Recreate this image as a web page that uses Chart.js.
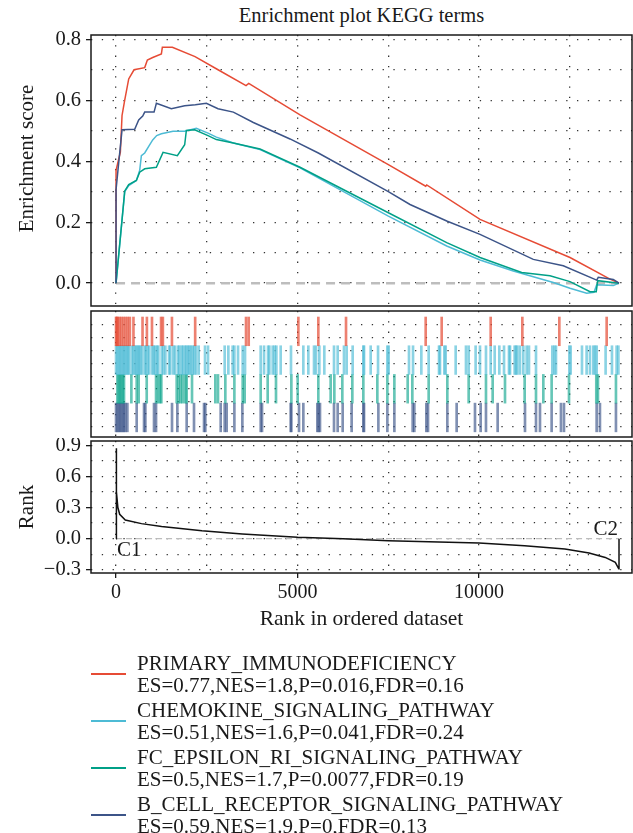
<!DOCTYPE html>
<html>
<head>
<meta charset="utf-8">
<script src="https://cdn.jsdelivr.net/npm/chart.js@4.4.1/dist/chart.umd.min.js"></script>
<style>
  body { margin: 0; background: #fff; width: 633px; height: 833px; position: relative; overflow: hidden;
         font-family: "Liberation Serif", serif; color: #1a1a1a; }
  canvas { position: absolute; left: 0; }
  #title { position: absolute; left: 91px; width: 541px; top: 4px; text-align: center; font-size: 20.5px; line-height: 22px; }
  .item { position: absolute; left: 0; width: 633px; height: 46px; }
  .item .key { position: absolute; left: 91px; width: 35px; top: 21px; height: 2px; }
  .item .txt { position: absolute; left: 137px; top: 0; font-size: 21px; line-height: 22px; white-space: nowrap; }
</style>
</head>
<body>
<div id="title">Enrichment plot KEGG terms</div>
<canvas id="es" width="633" height="310" style="top:0"></canvas>
<canvas id="rug" width="633" height="131" style="top:308px"></canvas>
<canvas id="rank" width="633" height="200" style="top:438px"></canvas>
<div id="legend"></div>
<script>
var SERIF = "'Liberation Serif', serif";

// ── data ──────────────────────────────────────────────────────────────────────

var rankMax = 13857;                       // last gene in the ordered list
var rankAxisMin = -690, rankAxisMax = 14215;
var xGrid = [0, 2500, 5000, 7500, 10000, 12500];
var xLabelTicks = [0, 5000, 10000];

var esGrid = [0, 0.1, 0.2, 0.3, 0.4, 0.5, 0.6, 0.7, 0.8];
var esLabelTicks = [0, 0.2, 0.4, 0.6, 0.8];
var rankGrid = [-0.3, -0.15, 0, 0.15, 0.3, 0.45, 0.6, 0.75, 0.9];
var rankLabelTicks = [-0.3, 0, 0.3, 0.6, 0.9];
var rugGrid = [0.18, 0.62, 1.06, 1.5, 1.94, 2.39, 2.83, 3.27, 3.72];

var setNames = ["PRIMARY_IMMUNODEFICIENCY", "CHEMOKINE_SIGNALING_PATHWAY",
                "FC_EPSILON_RI_SIGNALING_PATHWAY", "B_CELL_RECEPTOR_SIGNALING_PATHWAY"];
var setStats = ["ES=0.77,NES=1.8,P=0.016,FDR=0.16", "ES=0.51,NES=1.6,P=0.041,FDR=0.24",
                "ES=0.5,NES=1.7,P=0.0077,FDR=0.19", "ES=0.59,NES=1.9,P=0,FDR=0.13"];
var setColors = ["#E64B35", "#4DBBD5", "#00A087", "#3C5488"];
var rugColors = ["rgba(230,75,53,0.7)", "rgba(77,187,213,0.65)", "rgba(0,160,135,0.6)", "rgba(60,84,136,0.65)"];

// running enrichment score, [rank, ES]
var esPrimary = [[0,0],[0,0.37],[40,0.39],[119,0.43],[165,0.55],[239,0.6],[349,0.67],[496,0.7],
  [790,0.707],[863,0.732],[1010,0.74],[1249,0.752],[1276,0.774],[1552,0.774],[2176,0.743],
  [2810,0.7],[3581,0.648],[3655,0.655],[5069,0.552],[7502,0.389],[8531,0.318],[8559,0.322],
  [10028,0.209],[12507,0.084],[13609,0.013],[13857,0]];
var esChemokine = [[0,0],[120,0.15],[239,0.3],[349,0.32],[560,0.337],[652,0.37],[698,0.418],
  [790,0.427],[900,0.449],[1010,0.47],[1120,0.484],[1249,0.49],[1570,0.498],[1891,0.498],
  [2212,0.508],[2534,0.492],[2764,0.479],[3232,0.46],[3967,0.438],[5069,0.378],[7502,0.22],
  [9110,0.122],[10028,0.076],[10945,0.04],[12047,0.002],[12507,-0.017],[12967,-0.033],
  [13168,-0.03],[13242,-0.005],[13700,-0.008],[13857,0]];
var esFcEpsilon = [[0,0],[239,0.302],[349,0.323],[560,0.337],[652,0.364],[790,0.375],[1111,0.38],
  [1295,0.429],[1689,0.418],[1891,0.454],[1937,0.501],[2166,0.503],[2534,0.484],[2764,0.471],
  [3232,0.46],[3967,0.44],[5069,0.38],[7502,0.231],[9110,0.133],[10028,0.084],[11176,0.035],
  [11956,0.024],[12507,0.005],[13058,-0.028],[13230,-0.028],[13270,0.008],[13857,0]];
var esBCell = [[0,0],[0,0.307],[55,0.373],[165,0.503],[514,0.505],[624,0.535],[735,0.548],
  [790,0.561],[1047,0.561],[1111,0.59],[1524,0.572],[1891,0.582],[2185,0.585],[2488,0.59],
  [2810,0.572],[3232,0.561],[3783,0.527],[4793,0.473],[5573,0.427],[7502,0.3],[8099,0.258],
  [9110,0.204],[10028,0.16],[11496,0.078],[12322,0.057],[13242,0.01],[13286,0.019],
  [13700,0.012],[13857,0]];

// gene-set hits (rank positions)
var hitsPrimary = [0,20,40,90,140,200,260,320,380,480,730,850,990,1240,1290,1540,2180,3581,3655,
  5023,5573,6336,8531,8972,10322,11194,12213,13517];
var hitsChemokine = [0,37,73,110,147,184,220,257,294,330,367,441,477,523,560,597,633,670,716,789,
  826,872,918,1000,1037,1083,1129,1166,1258,1304,1359,1460,1496,1579,1625,1707,1744,1808,1845,
  1900,1937,1983,2020,2066,2111,2157,2203,2277,2451,2534,2993,3094,3214,3260,3361,3489,3554,
  3985,4077,4187,4224,4316,4371,4417,4536,4820,5160,5298,5454,5509,5601,5738,6005,6106,6280,
  6354,6519,6813,6832,7016,7218,7475,7511,8071,8182,8411,8613,8898,8925,9045,9081,9357,9641,
  9715,9907,10027,10192,10321,10432,10560,10689,10826,10854,10982,11019,11056,11129,11221,
  11313,11377,11570,12020,12075,12121,12488,12525,12837,12965,13057,13149,13195,13241,13488,
  13663,13791,13840];
var hitsFcEpsilon = [37,73,110,147,184,220,422,569,624,845,1102,1157,1212,1248,1671,1726,1781,
  1836,1909,1946,2093,2736,2809,3011,3260,3489,3544,3985,4178,4407,4830,5004,5573,5913,6014,
  6234,6510,6813,7199,7475,7668,8035,8163,8613,9127,9715,10192,10376,10716,11258,11570,11772,
  12001,12479,13231,13277,13773];
var hitsBCell = [0,37,73,110,147,184,220,257,312,569,771,808,1046,1102,1542,1689,1946,2148,2424,
  2460,2883,2993,3048,3260,3480,3985,4022,4811,4830,5041,5160,5546,5582,5619,6005,6106,6244,
  6491,6813,6832,7227,7475,7668,8172,8218,8549,8595,9127,9384,9889,10045,10192,10514,11267,
  11570,11680,12001,12258,12341,13241,13332,13773];

// ranked list metric, [rank, value]
var rankMetric = [[0,0],[0,0.87],[20,0.45],[50,0.3],[100,0.235],[255,0.18],[700,0.145],
  [1255,0.118],[2366,0.077],[3478,0.045],[5000,0.013],[6255,0],[7500,-0.02],[10000,-0.042],
  [11255,-0.067],[12366,-0.1],[13033,-0.138],[13478,-0.18],[13755,-0.227],[13850,-0.29],
  [13857,-0.29],[13857,0]];
var classLabels = ["C1", "C2"];

// ── helpers ───────────────────────────────────────────────────────────────────

function pts(pairs) {
  return pairs.map(function(p) { return { x: p[0], y: p[1] }; });
}

function fmtTick(v) {
  return v.toFixed(1).replace("-", "\u2212");
}

function noPad(s) {
  s.paddingTop = 0; s.paddingBottom = 0; s.paddingLeft = 0; s.paddingRight = 0;
}

var framePlugin = {
  id: "frame",
  afterDraw: function(chart) {
    var a = chart.chartArea, ctx = chart.ctx;
    ctx.save();
    ctx.strokeStyle = "#1a1a1a";
    ctx.lineWidth = 1.5;
    ctx.strokeRect(a.left, a.top, a.right - a.left, a.bottom - a.top);
    ctx.restore();
  }
};

// rotated y title, drawn by hand so it can sit where the original has it
function yTitlePlugin(text, shift) {
  return {
    id: "yTitle",
    afterDraw: function(chart) {
      var a = chart.chartArea, ctx = chart.ctx;
      ctx.save();
      ctx.translate(27, (a.top + a.bottom) / 2 + shift);
      ctx.rotate(-Math.PI / 2);
      ctx.fillStyle = "#1a1a1a";
      ctx.font = "21px " + SERIF;
      ctx.textAlign = "center";
      ctx.textBaseline = "middle";
      ctx.fillText(text, 0, 0);
      ctx.restore();
    }
  };
}

function xAxis(showLabels) {
  return {
    type: "linear", min: rankAxisMin, max: rankAxisMax, offset: false,
    afterBuildTicks: function(s) { s.ticks = xGrid.map(function(v) { return { value: v }; }); },
    afterFit: function(s) { s.height = showLabels ? 62 : 0; noPad(s); },
    ticks: {
      display: showLabels, autoSkip: false, maxRotation: 0, padding: 3, color: "#1a1a1a",
      font: { family: SERIF, size: 20 },
      callback: function(v) { return xLabelTicks.indexOf(v) >= 0 ? String(v) : ""; }
    },
    grid: {
      offset: false, drawTicks: showLabels, tickLength: 5, color: "#333", lineWidth: 1.3,
      tickColor: function(c) { return c.tick && xLabelTicks.indexOf(c.tick.value) >= 0 ? "#1a1a1a" : "rgba(0,0,0,0)"; }
    },
    border: { display: false, dash: [1.3, 9] },
    title: { display: showLabels, text: "Rank in ordered dataset", color: "#1a1a1a",
             font: { family: SERIF, size: 21.5 }, padding: { top: 0, bottom: 3 } }
  };
}

function yAxis(min, max, grid, labels) {
  return {
    type: "linear", min: min, max: max,
    afterBuildTicks: function(s) { s.ticks = grid.map(function(v) { return { value: v }; }); },
    afterFit: function(s) { s.width = 91; noPad(s); },
    ticks: {
      display: labels.length > 0, autoSkip: false, padding: 5, color: "#1a1a1a",
      font: { family: SERIF, size: 20.5 },
      callback: function(v) { return labels.indexOf(v) >= 0 ? fmtTick(v) : ""; }
    },
    grid: {
      drawTicks: labels.length > 0, tickLength: 5, color: "#333", lineWidth: 1.3,
      tickColor: function(c) { return c.tick && labels.indexOf(c.tick.value) >= 0 ? "#1a1a1a" : "rgba(0,0,0,0)"; }
    },
    border: { display: false, dash: [1.3, 9.5] },
    title: { display: false }
  };
}

function baseOptions(padding, scales) {
  return {
    animation: false, responsive: false, events: [],
    layout: { padding: padding },
    plugins: { legend: { display: false }, tooltip: { enabled: false }, title: { display: false } },
    scales: scales
  };
}

// ── enrichment score panel ────────────────────────────────────────────────────

var esSeries = [esPrimary, esChemokine, esFcEpsilon, esBCell];
var esDatasets = esSeries.map(function(s, i) {
  return { data: pts(s), borderColor: setColors[i], borderWidth: 1.5, pointRadius: 0, tension: 0, order: 4 - i };
});
esDatasets.push({ data: pts([[0, 0], [rankMax, 0]]), borderColor: "#bdbdbd", borderWidth: 2.5,
                  borderDash: [9, 6], pointRadius: 0, order: 10 });

new Chart(document.getElementById("es"), {
  type: "line",
  data: { datasets: esDatasets },
  options: baseOptions({ top: 35, right: 1, bottom: 4, left: 0 }, {
    x: xAxis(false),
    y: yAxis(-0.075, 0.814, esGrid, esLabelTicks)
  }),
  plugins: [framePlugin, yTitlePlugin("Enrichment score", -12)]
});

// ── hit rug panel ─────────────────────────────────────────────────────────────

var hitSets = [hitsPrimary, hitsChemokine, hitsFcEpsilon, hitsBCell];
var rugDatasets = hitSets.map(function(hits, i) {
  var row = 3 - i;
  return {
    data: hits.map(function(r) { return { x: r, y: [row, row + 1] }; }),
    backgroundColor: rugColors[i], borderWidth: 0, barThickness: 2, grouped: false
  };
});

new Chart(document.getElementById("rug"), {
  type: "bar",
  data: { datasets: rugDatasets },
  options: baseOptions({ top: 3, right: 1, bottom: 2, left: 0 }, {
    x: xAxis(false),
    y: yAxis(-0.18, 4.21, rugGrid, [])
  }),
  plugins: [framePlugin]
});

// ── ranked list panel ─────────────────────────────────────────────────────────

var classLabelPlugin = {
  id: "classLabels",
  afterDatasetsDraw: function(chart) {
    var ctx = chart.ctx, xs = chart.scales.x, ys = chart.scales.y;
    var y0 = ys.getPixelForValue(0);
    ctx.save();
    ctx.fillStyle = "#1a1a1a";
    ctx.font = "21px " + SERIF;
    ctx.textAlign = "left";
    ctx.textBaseline = "top";
    ctx.fillText(classLabels[0], xs.getPixelForValue(0) + 1, y0 + 1);
    ctx.textAlign = "right";
    ctx.textBaseline = "bottom";
    ctx.fillText(classLabels[1], xs.getPixelForValue(rankMax) - 1, y0 + 1);
    ctx.restore();
  }
};

new Chart(document.getElementById("rank"), {
  type: "line",
  data: {
    datasets: [
      { data: pts(rankMetric), borderColor: "#111", borderWidth: 1.5, pointRadius: 0, tension: 0, order: 1 },
      { data: pts([[0, 0], [rankMax, 0]]), borderColor: "#bdbdbd", borderWidth: 1.2,
        borderDash: [6, 4], pointRadius: 0, order: 5 }
    ]
  },
  options: baseOptions({ top: 3, right: 1, bottom: 3, left: 0 }, {
    x: xAxis(true),
    y: yAxis(-0.33, 0.94, rankGrid, rankLabelTicks)
  }),
  plugins: [framePlugin, classLabelPlugin, yTitlePlugin("Rank", 0)]
});

// ── legend ────────────────────────────────────────────────────────────────────

var legend = document.getElementById("legend");
setNames.forEach(function(name, i) {
  var item = document.createElement("div");
  item.className = "item";
  item.style.top = (652 + i * 47) + "px";
  var key = document.createElement("div");
  key.className = "key";
  key.style.backgroundColor = setColors[i];
  var txt = document.createElement("div");
  txt.className = "txt";
  txt.innerHTML = name + "<br>" + setStats[i];
  item.appendChild(key);
  item.appendChild(txt);
  legend.appendChild(item);
});
</script>
</body>
</html>
